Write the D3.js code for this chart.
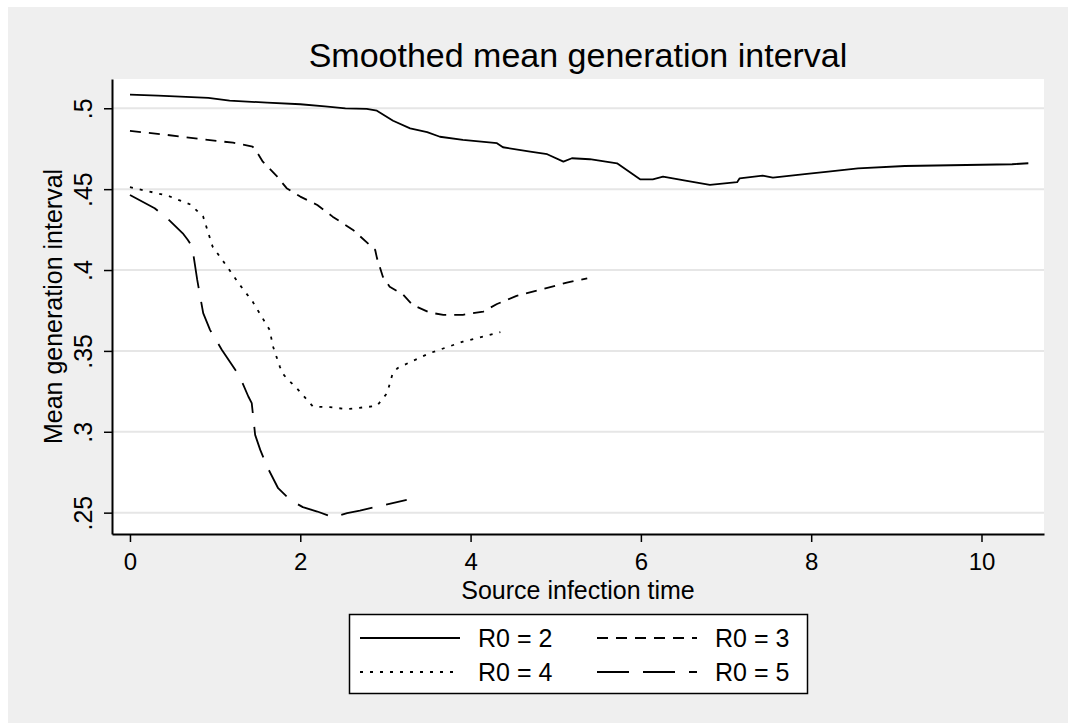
<!DOCTYPE html>
<html>
<head>
<meta charset="utf-8">
<script src="https://cdn.jsdelivr.net/npm/d3@7"></script>
<style>
  html, body { margin: 0; padding: 0; background: #ffffff; }
  svg { display: block; }
  text { font-family: "Liberation Sans", Arial, "DejaVu Sans", sans-serif; fill: #000; }
</style>
</head>
<body>
<svg id="chart" width="1068" height="723"></svg>
<script>
// ---------------- data ----------------
const titleText = "Smoothed mean generation interval";
const xTitle = "Source infection time";
const yTitle = "Mean generation interval";

const xTickValues = [0, 2, 4, 6, 8, 10];
const xTickLabels = ["0", "2", "4", "6", "8", "10"];
const yTickValues = [0.25, 0.3, 0.35, 0.4, 0.45, 0.5];
const yTickLabels = [".25", ".3", ".35", ".4", ".45", ".5"];

const seriesNames = ["R0 = 2", "R0 = 3", "R0 = 4", "R0 = 5"];

const r2Time = [0, 0.33, 0.92, 1.17, 1.61, 2.0, 2.29, 2.53, 2.78, 2.9, 3.09, 3.29, 3.49, 3.64, 3.91, 4.31, 4.38, 4.70, 4.90, 5.09, 5.19, 5.40, 5.72, 5.99, 6.14, 6.26, 6.54, 6.81, 7.13, 7.16, 7.43, 7.55, 7.95, 8.20, 8.55, 9.10, 10.36, 10.55];
const r2Value = [0.5084, 0.5078, 0.5064, 0.5047, 0.5035, 0.5025, 0.5012, 0.5000, 0.4996, 0.4985, 0.4923, 0.4876, 0.4852, 0.4824, 0.4804, 0.4784, 0.4759, 0.4732, 0.4716, 0.4670, 0.4691, 0.4685, 0.4660, 0.4561, 0.4561, 0.4577, 0.4551, 0.4526, 0.4543, 0.4567, 0.4583, 0.4571, 0.4594, 0.4608, 0.4629, 0.4643, 0.4654, 0.4660];

const r3Time = [0, 0.38, 0.86, 1.21, 1.44, 1.48, 1.56, 1.73, 1.84, 2.0, 2.20, 2.38, 2.62, 2.88, 2.90, 2.97, 3.05, 3.21, 3.32, 3.52, 3.68, 3.91, 4.15, 4.31, 4.54, 4.84, 5.13, 5.37];
const r3Value = [0.4860, 0.4839, 0.4808, 0.4787, 0.4763, 0.4738, 0.4670, 0.4577, 0.4506, 0.4454, 0.4402, 0.4330, 0.4248, 0.4124, 0.4075, 0.3959, 0.3897, 0.3846, 0.3784, 0.3737, 0.3723, 0.3723, 0.3743, 0.3790, 0.3840, 0.3881, 0.3922, 0.3949];

const r4Time = [0, 0.44, 0.71, 0.86, 0.97, 1.14, 1.29, 1.44, 1.64, 1.68, 1.76, 1.79, 1.84, 1.96, 2.15, 2.35, 2.55, 2.90, 3.02, 3.08, 3.14, 3.32, 3.52, 3.91, 4.35];
const r4Value = [0.4512, 0.4460, 0.4405, 0.4330, 0.4145, 0.4021, 0.3908, 0.3805, 0.3630, 0.3527, 0.3403, 0.3362, 0.3331, 0.3269, 0.3156, 0.3152, 0.3140, 0.3160, 0.3239, 0.3352, 0.3393, 0.3438, 0.3486, 0.3557, 0.3616];

const r5Time = [0, 0.29, 0.45, 0.62, 0.68, 0.73, 0.79, 0.86, 0.94, 1.08, 1.29, 1.39, 1.43, 1.47, 1.53, 1.61, 1.74, 1.88, 2.03, 2.20, 2.38, 2.55, 2.70, 2.94, 3.25];
const r5Value = [0.4464, 0.4382, 0.4314, 0.4227, 0.4186, 0.4145, 0.3939, 0.3733, 0.3630, 0.3506, 0.3341, 0.3218, 0.3177, 0.2981, 0.2888, 0.2785, 0.2651, 0.2579, 0.2534, 0.2507, 0.2472, 0.2497, 0.2513, 0.2542, 0.2579];

// ---------------- layout ----------------
const W = 1068, H = 723;
const plot = { left: 112, right: 1044, top: 79, bottom: 534 };
const dashes = ["none", "11,8", "3,7", "32,14"];

const svg = d3.select("#chart");

// backgrounds
svg.append("rect").attr("x", 0).attr("y", 0).attr("width", W).attr("height", H).attr("fill", "#ffffff");
svg.append("rect").attr("x", 8).attr("y", 7).attr("width", W - 8).attr("height", H - 7).attr("fill", "#efefef");
svg.append("rect").attr("x", plot.left).attr("y", plot.top)
  .attr("width", plot.right - plot.left).attr("height", plot.bottom - plot.top).attr("fill", "#ffffff");

const x = d3.scaleLinear().domain([-0.211, 10.734]).range([plot.left, plot.right]);
const y = d3.scaleLinear().domain([0.2368, 0.5181]).range([plot.bottom, plot.top]);

// gridlines
svg.append("g").selectAll("line").data(yTickValues).join("line")
  .attr("x1", plot.left).attr("x2", plot.right)
  .attr("y1", d => y(d)).attr("y2", d => y(d))
  .attr("stroke", "#e6e6e6").attr("stroke-width", 2);

// series
const series = [
  { name: seriesNames[0], t: r2Time, v: r2Value },
  { name: seriesNames[1], t: r3Time, v: r3Value },
  { name: seriesNames[2], t: r4Time, v: r4Value },
  { name: seriesNames[3], t: r5Time, v: r5Value }
];
const line = d3.line().x(d => x(d[0])).y(d => y(d[1]));
series.forEach((s, i) => {
  const pts = s.t.map((t, k) => [t, s.v[k]]);
  svg.append("path").datum(pts)
    .attr("d", line)
    .attr("fill", "none")
    .attr("stroke", "#000")
    .attr("stroke-width", 1.8)
    .attr("stroke-linejoin", "round")
    .attr("stroke-dasharray", dashes[i]);
});

// axes
const xAxis = d3.axisBottom(x).tickValues(xTickValues)
  .tickFormat((d, i) => xTickLabels[i]).tickSize(8).tickSizeOuter(0);
const gx = svg.append("g").attr("transform", `translate(0,${plot.bottom})`).call(xAxis);
gx.select(".domain").attr("stroke", "#000").attr("stroke-width", 2);
gx.selectAll(".tick line").attr("stroke", "#000").attr("stroke-width", 1.5);
gx.selectAll("text").attr("font-size", 24).attr("dy", 0).attr("y", 36)
  .style("font-family", "'Liberation Sans', Arial, sans-serif");

const yAxis = d3.axisLeft(y).tickValues(yTickValues)
  .tickFormat((d, i) => yTickLabels[i]).tickSize(8).tickSizeOuter(0);
const gy = svg.append("g").attr("transform", `translate(${plot.left},0)`).call(yAxis);
gy.select(".domain").attr("stroke", "#000").attr("stroke-width", 2);
gy.selectAll(".tick line").attr("stroke", "#000").attr("stroke-width", 1.5);
gy.selectAll("text").attr("font-size", 25)
  .attr("x", null).attr("dy", null)
  .attr("text-anchor", "middle")
  .attr("transform", "translate(-20,0) rotate(-90)")
  .style("font-family", "'Liberation Sans', Arial, sans-serif");

// title
const cx = (plot.left + plot.right) / 2;
svg.append("text").attr("x", cx).attr("y", 67).attr("text-anchor", "middle")
  .attr("font-size", 34).text(titleText);

// axis titles
svg.append("text").attr("x", cx).attr("y", 599).attr("text-anchor", "middle")
  .attr("font-size", 25).text(xTitle);
svg.append("text")
  .attr("transform", `translate(62,${(plot.top + plot.bottom) / 2}) rotate(-90)`)
  .attr("text-anchor", "middle").attr("font-size", 25).text(yTitle);

// legend
const lg = svg.append("g");
lg.append("rect").attr("x", 349.5).attr("y", 614.5).attr("width", 458).attr("height", 79)
  .attr("fill", "#ffffff").attr("stroke", "#000").attr("stroke-width", 1.5);
const legCols = [360, 597];
const legRows = [638, 672];
series.forEach((s, i) => {
  const cxl = legCols[i % 2], cyl = legRows[Math.floor(i / 2)];
  lg.append("line").attr("x1", cxl).attr("x2", cxl + 100).attr("y1", cyl).attr("y2", cyl)
    .attr("stroke", "#000").attr("stroke-width", 1.8).attr("stroke-dasharray", dashes[i]);
  lg.append("text").attr("x", cxl + 118).attr("y", cyl + 9).attr("font-size", 25).text(s.name);
});
</script>
</body>
</html>
